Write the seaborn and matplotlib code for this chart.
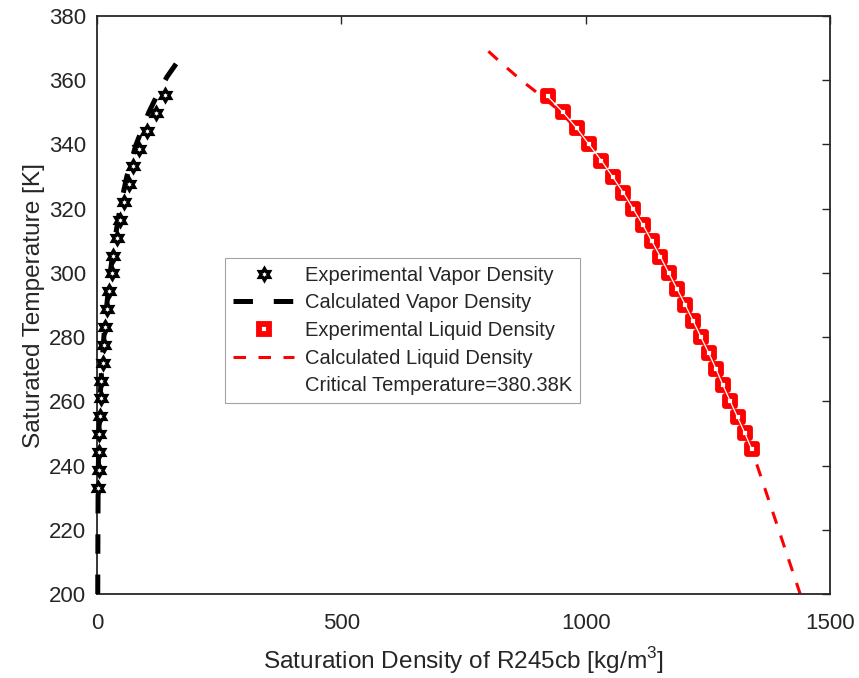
import numpy as np
import matplotlib
matplotlib.use('Agg')
import matplotlib.pyplot as plt
import seaborn as sns
from matplotlib.path import Path
from matplotlib.lines import Line2D
from matplotlib.legend_handler import HandlerTuple

sns.set_style('white')
plt.rcParams['font.family'] = ['Liberation Sans', 'DejaVu Sans']
plt.rcParams['lines.scale_dashes'] = False
plt.rcParams['mathtext.fontset'] = 'custom'
plt.rcParams['mathtext.rm'] = 'Liberation Sans'

# Experimental vapor density (10 F steps)
T_vap = [233.15, 238.71, 244.26, 249.82, 255.37, 260.93, 266.48, 272.04, 277.59, 283.15,
         288.71, 294.26, 299.82, 305.37, 310.93, 316.48, 322.04, 327.59, 333.15, 338.71,
         344.26, 349.82, 355.37]
rho_vap = [2.7, 4.1, 4.1, 4.7, 6.1, 7.6, 8.2, 11.7, 14.3, 16.4,
           20.5, 25.2, 30.0, 33.4, 41.5, 47.0, 55.2, 65.5, 74.3, 86.6,
           102.0, 121.0, 139.0]

# Calculated vapor density
T_vap_calc = [200, 210, 220, 230, 240, 250, 260, 270, 280, 290, 300, 310, 320, 330, 340, 350, 355, 361, 366]
rho_vap_calc = [1.5, 1.7, 1.9, 2.2, 2.8, 3.8, 6.0, 9.5, 14.0, 20.0, 27.0, 36.0, 47.0, 61.0, 80.0, 106.0, 122.0, 143.0, 166.0]

# Experimental liquid density (5 K steps)
T_liq = [355, 350, 345, 340, 335, 330, 325, 320, 315, 310, 305, 300,
         295, 290, 285, 280, 275, 270, 265, 260, 255, 250, 245]
rho_liq = [922, 954, 982, 1007, 1032, 1055, 1077, 1097, 1117, 1135, 1153, 1170,
           1187, 1204, 1220, 1236, 1252, 1267, 1281, 1296, 1311, 1326, 1340]

# Calculated liquid density
T_liq_calc = [369, 365, 360, 355, 350, 340, 330, 320, 310, 300, 290, 280, 270, 260, 250, 240, 230, 220, 210, 200]
rho_liq_calc = [801, 830, 868, 910, 950, 1009, 1056, 1098, 1136, 1172, 1206, 1238, 1269, 1298, 1326, 1351, 1373, 1395, 1417, 1439]

xticks = [0, 500, 1000, 1500]
yticks = list(range(200, 381, 20))

fig = plt.figure(figsize=(8.59, 6.78), dpi=100)
ax = fig.add_axes([97/859, 1-594/678, (830-97)/859, (594-16)/678])

hexagram = Path.unit_regular_star(6, innerCircle=0.5774)

# lines first
sns.lineplot(x=rho_vap_calc, y=T_vap_calc, sort=False, estimator=None, ax=ax,
             color='black', lw=3.6, linestyle=(0, (14, 15)), zorder=2.6, clip_on=False)
sns.lineplot(x=rho_liq_calc, y=T_liq_calc, sort=False, estimator=None, ax=ax,
             color='red', lw=2.2, linestyle=(0, (9, 9)), zorder=2)

# hexagram: black star with a small white star in the middle
sns.scatterplot(x=rho_vap, y=T_vap, ax=ax, marker=hexagram, s=175, color='black',
                linewidth=0, zorder=3, clip_on=False)
sns.scatterplot(x=rho_vap, y=T_vap, ax=ax, marker=hexagram, s=12, color='white',
                linewidth=0, zorder=3.1, clip_on=False)
sns.scatterplot(x=rho_liq, y=T_liq, ax=ax, marker='s', s=50, color='red',
                facecolor='white', edgecolor='red', linewidth=4.2, zorder=3)
sns.lineplot(x=rho_liq, y=T_liq, sort=False, estimator=None, ax=ax,
             color='white', lw=0.9, zorder=4)

ax.set_xlim(0, 1500)
ax.set_ylim(200, 380)
ax.set_xticks(xticks)
ax.set_yticks(yticks)
ax.tick_params(direction='in', length=5.5, width=1.0, top=True, right=True,
               labelsize=16, colors='#262626')
ax.tick_params(axis='x', pad=14)
ax.tick_params(axis='y', pad=8)
for sp in ax.spines.values():
    sp.set_linewidth(1.3)
    sp.set_color('#262626')

ax.set_xlabel('Saturation Density of R245cb [kg/m$^3$]', fontsize=17.6, color='#262626', labelpad=8)
ax.set_ylabel('Saturated Temperature [K]', fontsize=17.6, color='#262626', labelpad=3)

star_h = (Line2D([], [], ls='', marker=hexagram, ms=13.2, mfc='black', mec='none'),
          Line2D([], [], ls='', marker=hexagram, ms=3.5, mfc='white', mec='none'))
handles = [
    star_h,
    Line2D([], [], color='black', lw=3.6, ls=(0, (14, 15))),
    Line2D([], [], ls='', marker='s', ms=7.1, mfc='white', mec='red', mew=4.2),
    Line2D([], [], color='red', lw=2.2, ls=(0, (9, 9))),
    Line2D([], [], ls='', marker=''),
]
labels = ['Experimental Vapor Density', 'Calculated Vapor Density',
          'Experimental Liquid Density', 'Calculated Liquid Density',
          'Critical Temperature=380.38K']
leg = ax.legend(handles, labels, loc='upper left',
                bbox_to_anchor=((225-97)/733, (594-257.7)/578),
                fontsize=14.5, frameon=True, fancybox=False, handlelength=3.03,
                handletextpad=0.55, labelspacing=0.43, borderpad=0.4, borderaxespad=0,
                handler_map={tuple: HandlerTuple(ndivide=1, pad=0)})
leg.get_frame().set_edgecolor('#8c8c8c')
leg.get_frame().set_linewidth(0.8)

fig.savefig('out.png', dpi=100)
